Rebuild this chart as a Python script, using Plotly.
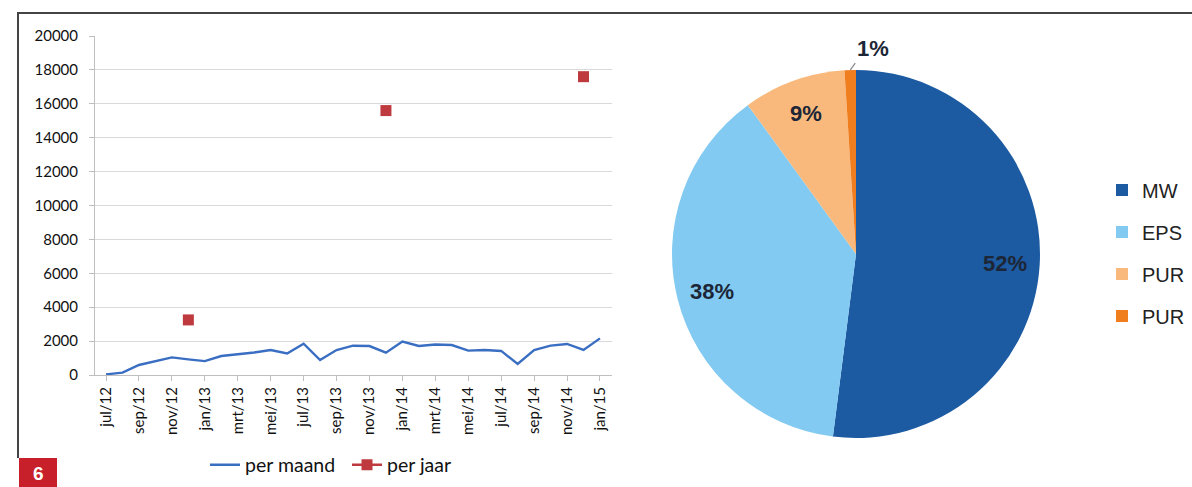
import math
import plotly.graph_objects as go

months = ["jul/12","aug/12","sep/12","okt/12","nov/12","dec/12",
          "jan/13","feb/13","mrt/13","apr/13","mei/13","jun/13",
          "jul/13","aug/13","sep/13","okt/13","nov/13","dec/13",
          "jan/14","feb/14","mrt/14","apr/14","mei/14","jun/14",
          "jul/14","aug/14","sep/14","okt/14","nov/14","dec/14","jan/15"]
per_maand = [40, 140, 590, 820, 1040, 920,
             820, 1120, 1220, 1330, 1470, 1270,
             1850, 885, 1475, 1730, 1710, 1320,
             1970, 1710, 1800, 1770, 1440, 1475,
             1420, 650, 1475, 1730, 1830, 1475, 2160]
jaar_months = ["dec/12", "dec/13", "dec/14"]
per_jaar_vals = [3250, 15600, 17600]
per_jaar = [per_jaar_vals[jaar_months.index(m)] if m in jaar_months else None for m in months]

pie_labels = ["MW", "EPS", "PUR", "PUR "]
pie_values = [52, 38, 9, 1]
pie_colors = ["#1c5aa2", "#82caf2", "#f9b97c", "#f07d1e"]

y_ticks = list(range(0, 20001, 2000))

W, H = 1192, 487
# pie geometry (pixels)
pcx, pcy, pr = 856, 254, 184

fig = go.Figure()

fig.add_trace(go.Scatter(
    x=months, y=per_maand, mode="lines", name="per maand",
    line=dict(color="#3a6ec2", width=2.4), legend="legend"))
fig.add_trace(go.Scatter(
    x=months, y=per_jaar, mode="lines+markers", name="per jaar",
    line=dict(color="#be3a3e", width=2.4), connectgaps=False,
    marker=dict(symbol="square", size=11, color="#be3a3e"), legend="legend"))

fig.add_trace(go.Pie(
    labels=pie_labels, values=pie_values, sort=False, direction="clockwise",
    rotation=0, marker=dict(colors=pie_colors, line=dict(width=0)),
    textinfo="none", showlegend=False,
    domain=dict(x=[(pcx-pr)/W, (pcx+pr)/W], y=[1-(pcy+pr)/H, 1-(pcy-pr)/H])))

# legend entries for pie slices (separate legend on the right)
for i, (lab, col) in enumerate(zip(pie_labels, pie_colors)):
    fig.add_trace(go.Scatter(
        x=[None], y=[None], mode="markers", name=lab,
        marker=dict(symbol="square", size=12, color=col),
        legend="legend2", legendgroup=f"g{i}", hoverinfo="skip"))

# pie percentage labels computed from the slice mid-angles
annotations = []
total = sum(pie_values)
cum = 0
lab_font = dict(family="Liberation Sans", size=22, color="#1c2636")
for i, v in enumerate(pie_values):
    mid = (cum + v / 2) / total * 2 * math.pi
    cum += v
    pct = f"<b>{round(v / total * 100)}%</b>"
    if v / total >= 0.05:
        rr = 0.81 * pr
        px = pcx + rr * math.sin(mid)
        py = pcy - rr * math.cos(mid)
        annotations.append(dict(text=pct, xref="paper", yref="paper",
                                x=px / W, y=1 - py / H, showarrow=False,
                                xanchor="center", yanchor="middle", font=lab_font))
    else:
        ex = pcx + pr * math.sin(mid)
        ey = pcy - pr * math.cos(mid)
        annotations.append(dict(text=pct, xref="paper", yref="paper",
                                x=ex / W, y=1 - ey / H, showarrow=True,
                                arrowhead=0, arrowwidth=1.2, arrowcolor="#888888",
                                ax=5, ay=-7, xanchor="left", yanchor="bottom",
                                standoff=0, startstandoff=0, font=lab_font))

annotations.append(dict(text="<b>6</b>", xref="paper", yref="paper", x=38.5/W, y=1-473/H,
                        xanchor="center", yanchor="middle",
                        showarrow=False, font=dict(color="white", size=19, family="Liberation Sans")))

fig.update_layout(
    width=W, height=H,
    margin=dict(l=0, r=0, t=0, b=0, autoexpand=False),
    paper_bgcolor="white", plot_bgcolor="white",
    font=dict(family="Lato", color="#111111"),
    xaxis=dict(domain=[95/W, 612/W], type="category",
               categoryorder="array", categoryarray=months,
               range=[-0.67, 30.73], tickvals=months[::2],
               tickangle=-90, tickfont=dict(size=15, family="Lato"),
               showgrid=False, showline=True, linecolor="#bfbfbf",
               ticks="outside", ticklen=5, tickcolor="#bfbfbf", zeroline=False),
    yaxis=dict(domain=[1-375/H, 1-36/H], range=[0, 20000],
               tickvals=y_ticks, tickformat="d", tickfont=dict(size=15, family="Lato"),
               showgrid=True, gridcolor="#d9d9d9", gridwidth=1,
               showline=True, linecolor="#bfbfbf", ticks="outside",
               ticklen=5, tickcolor="#bfbfbf", ticklabelstandoff=8,
               zeroline=False),
    legend=dict(orientation="h", x=205/W, y=1-465/H, xanchor="left", yanchor="middle",
                font=dict(size=19.5, family="Lato"), bgcolor="rgba(0,0,0,0)",
                itemwidth=30, tracegroupgap=0, entrywidth=97),
    legend2=dict(orientation="v", x=1102/W, y=1-253/H, xanchor="left", yanchor="middle",
                 font=dict(size=20, family="Liberation Sans", color="#222222"),
                 bgcolor="rgba(0,0,0,0)", itemwidth=30, tracegroupgap=13),
    shapes=[
        dict(type="line", xref="paper", yref="paper", x0=17/W, x1=1, y0=1-13/H, y1=1-13/H,
             line=dict(color="#444444", width=2)),
        dict(type="line", xref="paper", yref="paper", x0=18/W, x1=18/W, y0=1-13/H, y1=1-458/H,
             line=dict(color="#444444", width=2)),
        dict(type="rect", xref="paper", yref="paper", x0=19/W, x1=57/W, y0=0, y1=1-458/H,
             fillcolor="#c8202a", line=dict(width=0)),
    ],
    annotations=annotations,
)

fig.write_html("out.html", config={"displayModeBar": False},
               post_script="document.body.style.margin='0';")
